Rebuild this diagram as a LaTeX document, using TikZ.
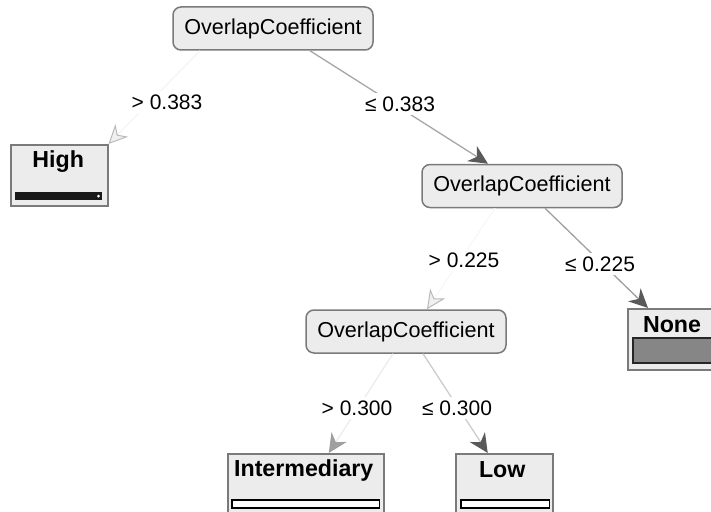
\documentclass[tikz,border=0pt]{standalone}
\usepackage{fontspec}
\setmainfont{Liberation Sans}
\usetikzlibrary{arrows.meta,calc}
\definecolor{nodefill}{HTML}{ECECEC}
\definecolor{nodeedge}{HTML}{7A7A7A}
\begin{document}
\begin{tikzpicture}[x=1pt,y=-1pt,
  inner/.style={draw=nodeedge,fill=nodefill,line width=1.5pt,rounded corners=8pt,
    minimum width=200pt,minimum height=43pt,inner sep=0pt,
    font=\fontsize{21.6}{24}\selectfont},
  leafbox/.style={draw=nodeedge,fill=nodefill,line width=1.5pt,
    minimum height=61pt,inner sep=0pt,anchor=north west},
  leaftext/.style={font=\fontsize{23.2}{26}\selectfont\bfseries,inner sep=0pt},
  elabel/.style={fill=white,inner sep=4pt,font=\fontsize{21}{24}\selectfont},
  tipdark/.style={-{Stealth[length=19pt,width=18pt,inset=6pt,color=gray!70!black,fill=gray!70!black]}},
  tipmid/.style={-{Stealth[length=19pt,width=18pt,inset=6pt,color=gray!75,fill=gray!75]}},
  tiplight/.style={-{Stealth[length=19pt,width=18pt,inset=6pt,color=gray!55,fill=gray!12,line width=1pt]}},
  edgeline/.style={line width=1.3pt}
]
\useasboundingbox (0,0) rectangle (711,511);
\clip (0,0) rectangle (711,511);

% internal nodes
\node[inner] (root) at (273,28.5) {OverlapCoefficient};
\node[inner] (n2) at (522,186) {OverlapCoefficient};
\node[inner] (n3) at (406,331.5) {OverlapCoefficient};

% leaves
\node[leafbox,minimum width=97pt] (high) at (10,144) {};
\node[leafbox,minimum width=100pt] (none) at (627,308) {};
\node[leafbox,minimum width=156pt] (inter) at (227,453) {};
\node[leafbox,minimum width=97pt] (low) at (455,453) {};

\node[leaftext] (hightxt) at ($(high.north)+(-1,18)$) {High};
\node[leaftext] (nonetxt) at ($(none.north west)+(45,17)$) {None};
\node[leaftext] (intertxt) at ($(inter.north)+(-2,17)$) {Intermediary};
\node[leaftext] (lowtxt) at ($(low.north)+(-2,17)$) {Low};

% bars
\fill[black!90] ($(high.north west)+(5,48)$) rectangle ($(high.north east)+(-7,56)$);
\fill[white] ($(high.north east)+(-10,52)$) circle (1.5pt);
\draw[line width=1.5pt,draw=black!85,fill=gray!95] ($(none.north west)+(6,30)$) rectangle ($(none.north east)+(-6,55)$);
\draw[line width=1.5pt,draw=black,fill=white] ($(inter.north west)+(5,47)$) rectangle ($(inter.north east)+(-5,55)$);
\draw[line width=1.5pt,draw=black,fill=white] ($(low.north west)+(6,47)$) rectangle ($(low.north east)+(-4,55)$);

% edges
\draw[edgeline,gray!8,tiplight] ($(root.south)+(-73,0)$) -- (high.north east);
\draw[edgeline,gray!70,tipdark] ($(root.south)+(37,0)$) -- ($(n2.north)+(-34,0)$);
\draw[edgeline,gray!6,tiplight] ($(n2.south)+(-27,0)$) -- ($(n3.north)+(21,0)$);
\draw[edgeline,gray!75,tipdark] ($(n2.south)+(23,0)$) -- ($(none.north west)+(21,0)$);
\draw[edgeline,gray!15,tipmid] ($(n3.south)+(-13,0)$) -- ($(inter.north)+(23,0)$);
\draw[edgeline,gray!40,tipdark] ($(n3.south)+(17,0)$) -- ($(low.north)+(-16.5,0)$);

% edge labels
\node[elabel] (l1) at (167,102) {> 0.383};
\node[elabel] (l2) at (400,104) {≤ 0.383};
\node[elabel] (l3) at (464,260) {> 0.225};
\node[elabel] (l4) at (600,264) {≤ 0.225};
\node[elabel] (l5) at (357,408) {> 0.300};
\node[elabel] (l6) at (457,408) {≤ 0.300};
\end{tikzpicture}
\end{document}
